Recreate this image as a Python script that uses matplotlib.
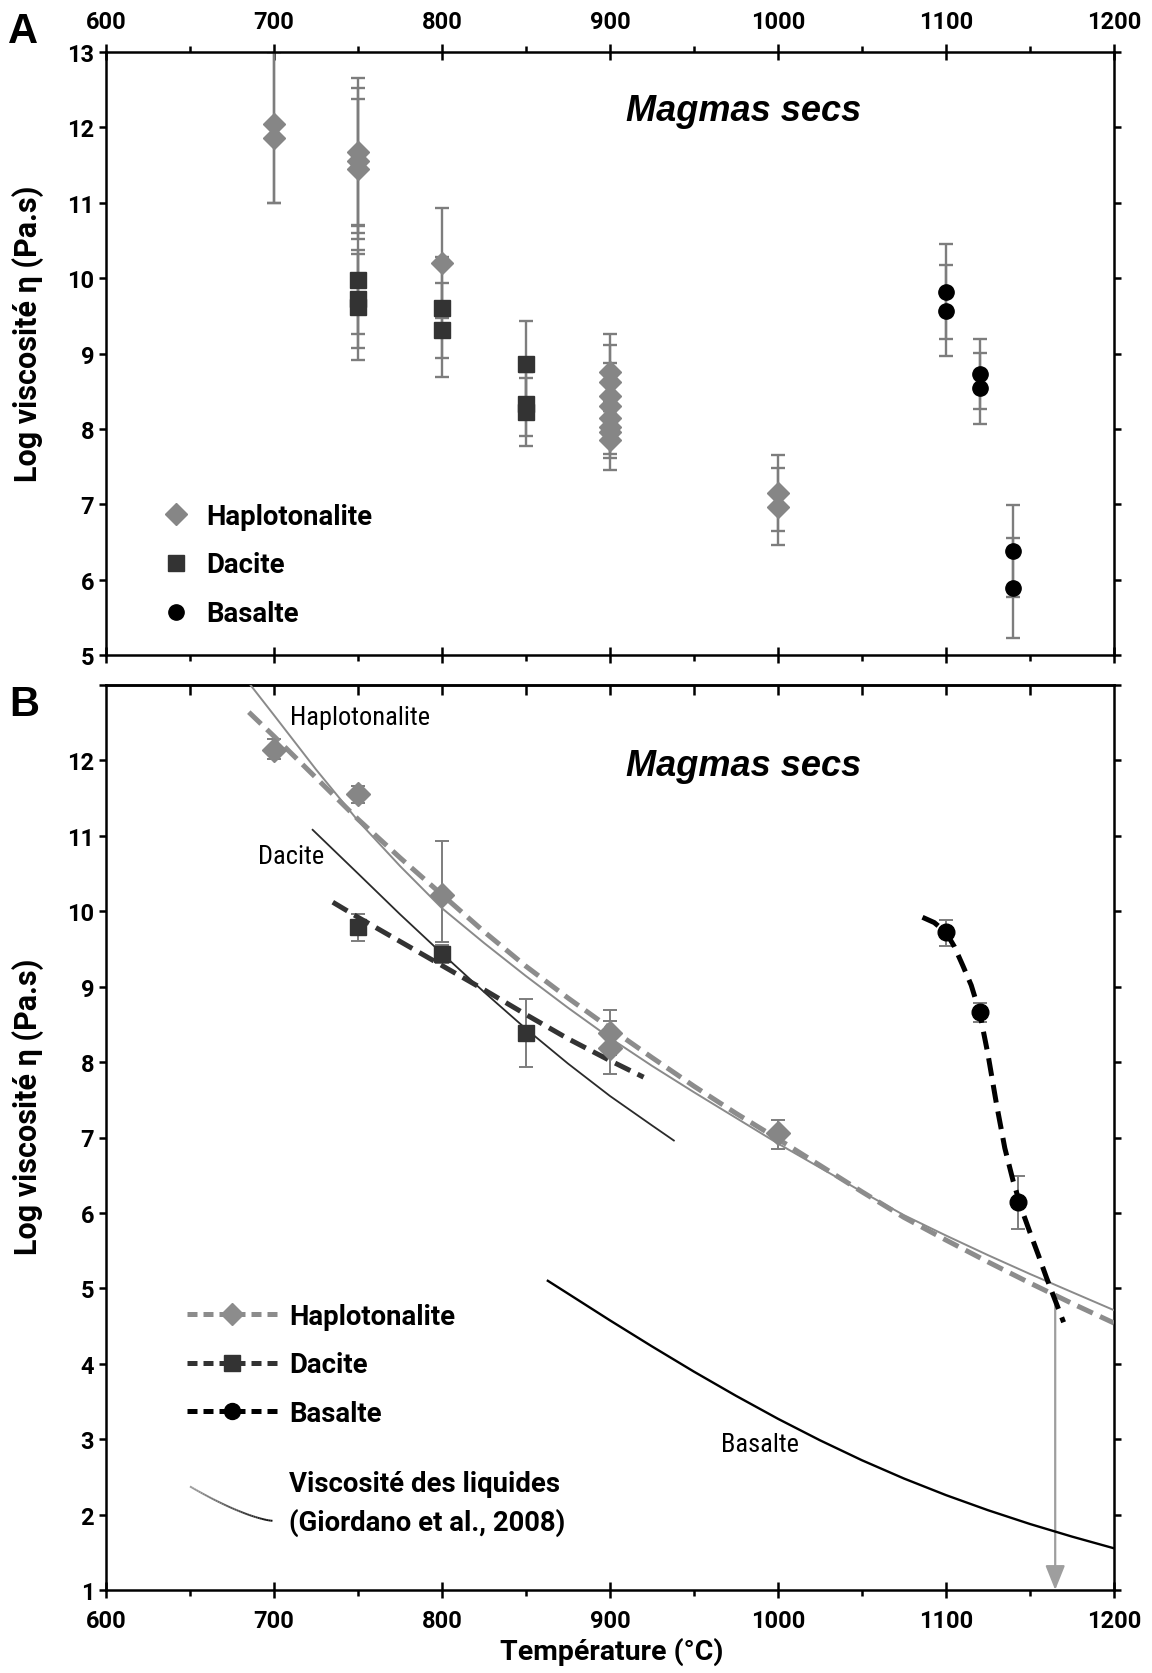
import numpy as np
import matplotlib
matplotlib.use('Agg')
import matplotlib.pyplot as plt
from matplotlib.lines import Line2D
from matplotlib.legend_handler import HandlerBase
from matplotlib.collections import LineCollection

# ---------------- DATA ----------------
# Panel A : measured points (T in degC, log viscosity, asymmetric errors)
hapA_T = [700, 700, 750, 750, 750, 800, 900, 900, 900, 900, 900, 900, 900, 900, 1000, 1000]
hapA_v = [12.05, 11.86, 11.67, 11.56, 11.45, 10.20, 8.75, 8.62, 8.44, 8.31, 8.15, 8.02, 7.96, 7.85, 7.15, 6.97]
hapA_lo = [1.05, 0.86, 0.98, 0.96, 0.93, 0.73, 0.51, 0.49, 0.44, 0.15, 0.15, 0.35, 0.35, 0.39, 0.51, 0.51]
hapA_hi = [0.95, 1.14, 0.98, 0.96, 0.93, 0.73, 0.51, 0.49, 0.44, 0.15, 0.15, 0.35, 0.35, 0.39, 0.51, 0.51]

dacA_T = [750, 750, 750, 800, 800, 850, 850, 850]
dacA_v = [9.98, 9.72, 9.62, 9.61, 9.31, 8.86, 8.33, 8.22]
dacA_err = [0.72, 0.65, 0.70, 0.67, 0.62, 0.57, 0.42, 0.45]

basA_T = [1100, 1100, 1120, 1120, 1140, 1140]
basA_v = [9.82, 9.57, 8.73, 8.54, 6.38, 5.89]
basA_err = [0.63, 0.60, 0.46, 0.47, 0.61, 0.66]

# Panel B : averaged points
hapB_T = [700, 750, 800, 900, 900, 1000]
hapB_v = [12.14, 11.55, 10.21, 8.39, 8.19, 7.06]
hapB_lo = [0.12, 0.12, 0.62, 0.30, 0.35, 0.21]
hapB_hi = [0.14, 0.11, 0.72, 0.30, 0.35, 0.17]

dacB_T = [750, 800, 850]
dacB_v = [9.79, 9.43, 8.39]
dacB_lo = [0.19, 0.12, 0.45]
dacB_hi = [0.18, 0.12, 0.45]

basB_T = [1100, 1120, 1143]
basB_v = [9.72, 8.66, 6.15]
basB_lo = [0.18, 0.13, 0.36]
basB_hi = [0.16, 0.12, 0.34]

# Panel B : fitted curves (dashed)
hapFit_T = [685, 700, 725, 750, 775, 800, 825, 850, 875, 900, 925, 950, 975, 1000,
            1025, 1050, 1075, 1100, 1125, 1150, 1175, 1200]
hapFit_v = [12.64, 12.32, 11.77, 11.22, 10.71, 10.22, 9.73, 9.27, 8.85, 8.45, 8.06, 7.68, 7.32, 6.98,
            6.63, 6.28, 5.94, 5.64, 5.35, 5.07, 4.80, 4.54]
dacFit_T = [735, 750, 775, 800, 825, 850, 875, 900, 920]
dacFit_v = [10.12, 9.92, 9.60, 9.28, 8.96, 8.63, 8.31, 8.02, 7.80]
basFit_T = [1086, 1093, 1100, 1105, 1110, 1115, 1120, 1125, 1130, 1135, 1140, 1145,
            1150, 1155, 1160, 1165, 1170]
basFit_v = [9.92, 9.85, 9.72, 9.53, 9.28, 9.02, 8.66, 8.10, 7.45, 6.86, 6.42, 6.05,
            5.74, 5.44, 5.13, 4.84, 4.55]

# Panel B : liquid viscosities (Giordano et al., 2008)
gioHap_T = [686, 700, 725, 750, 775, 800, 825, 850, 875, 900, 925, 950, 975, 1000,
            1025, 1050, 1075, 1100, 1125, 1150, 1175, 1200]
gioHap_v = [13.00, 12.60, 11.88, 11.20, 10.60, 10.04, 9.58, 9.14, 8.72, 8.32, 7.95, 7.60, 7.26, 6.92,
            6.60, 6.28, 5.97, 5.70, 5.44, 5.19, 4.95, 4.71]
gioDac_T = [723, 750, 775, 800, 825, 850, 875, 900, 925, 938]
gioDac_v = [11.08, 10.50, 9.96, 9.44, 8.93, 8.44, 7.98, 7.55, 7.16, 6.96]
gioBas_T = [863, 875, 900, 925, 950, 975, 1000, 1025, 1050, 1075, 1100, 1125, 1150, 1175, 1200]
gioBas_v = [5.10, 4.93, 4.575, 4.23, 3.895, 3.575, 3.27, 2.985, 2.72, 2.478, 2.258, 2.058, 1.875,
            1.708, 1.553]

# crossing temperature arrow
arrow_T = 1165
arrow_top = 4.86
arrow_bottom = 1.0

xticks = [600, 700, 800, 900, 1000, 1100, 1200]
yticksA = [5, 6, 7, 8, 9, 10, 11, 12, 13]
yticksB = [1, 2, 3, 4, 5, 6, 7, 8, 9, 10, 11, 12, 13]
yticklabelsB = ['1', '2', '3', '4', '5', '6', '7', '8', '9', '10', '11', '12', '']

# ---------------- STYLE ----------------
BOLD = ['Roboto', 'DejaVu Sans']
COND = ['Roboto Condensed', 'Roboto', 'DejaVu Sans']
plt.rcParams['font.family'] = BOLD
plt.rcParams['font.weight'] = 'bold'
plt.rcParams['axes.linewidth'] = 1.8

HAP_C = '#868686'
DAC_C = '#333333'
BAS_C = '#000000'
ERR_C = '#7d7d7d'

W, H = 1152, 1674
fig = plt.figure(figsize=(W / 100, H / 100), dpi=100)
axA = fig.add_axes([106 / W, 1 - 656 / H, 1008 / W, 603 / H])
axB = fig.add_axes([106 / W, 1 - 1591 / H, 1008 / W, 905 / H])


def errs(ax, T, v, lo, hi, lw, cap):
    ax.errorbar(T, v, yerr=[lo, hi], fmt='none', ecolor=ERR_C, elinewidth=lw,
                capsize=cap, capthick=lw, zorder=2)


def style_axis(ax, yt):
    ax.set_xlim(600, 1200)
    ax.set_xticks(xticks)
    ax.set_xticks(np.arange(650, 1200, 100), minor=True)
    ax.set_yticks(yt)
    ax.tick_params(axis='x', which='major', direction='inout', length=11, width=1.8, pad=8, labelsize=17)
    ax.tick_params(axis='x', which='minor', direction='out', length=4.5, width=1.8)
    ax.tick_params(axis='y', which='major', direction='out', length=5, width=1.8, left=True, right=True,
                   pad=3.5, labelsize=17)


# ---------------- PANEL A ----------------
errs(axA, hapA_T, hapA_v, hapA_lo, hapA_hi, 1.7, 5)
errs(axA, dacA_T, dacA_v, dacA_err, dacA_err, 1.7, 5)
errs(axA, basA_T, basA_v, basA_err, basA_err, 1.7, 5)
hA, = axA.plot(hapA_T, hapA_v, ls='none', marker='D', ms=11.5, color=HAP_C, mec=HAP_C, zorder=4,
               label='Haplotonalite')
dA, = axA.plot(dacA_T, dacA_v, ls='none', marker='s', ms=11.3, color=DAC_C, mec=DAC_C, zorder=4,
               label='Dacite')
bA, = axA.plot(basA_T, basA_v, ls='none', marker='o', ms=11, color=BAS_C, mec=BAS_C, zorder=4,
               label='Basalte')

style_axis(axA, yticksA)
axA.set_ylim(5, 13)
axA.xaxis.set_ticks_position('both')
axA.tick_params(axis='x', which='both', top=True, bottom=True, labeltop=True, labelbottom=False)
axA.set_ylabel('Log viscosité η (Pa.s)', fontsize=22, fontweight='bold')
axA.yaxis.set_label_coords(-0.062, 0.535)

axA.text(979.8, 12.22, 'Magmas secs', fontsize=26, fontweight='bold', style='italic',
         family=['Liberation Sans', 'DejaVu Sans'], ha='center', va='center')

legprop = dict(family=BOLD, weight='bold', size=19.8)
axA.legend(handles=[hA, dA, bA], loc='upper left', bbox_to_anchor=(0.0558, 0.2525),
           frameon=False, borderpad=0, borderaxespad=0, handlelength=1.0,
           handletextpad=0.6, labelspacing=0.79, markerscale=1.0, prop=legprop)

# ---------------- PANEL B ----------------
axB.plot(gioHap_T, gioHap_v, color='#8a8a8a', lw=1.4, zorder=3)
axB.plot(gioDac_T, gioDac_v, color='#2a2a2a', lw=1.3, zorder=3)
axB.plot(gioBas_T, gioBas_v, color='#000000', lw=1.7, zorder=3)

errs(axB, hapB_T, hapB_v, hapB_lo, hapB_hi, 1.4, 5)
errs(axB, dacB_T, dacB_v, dacB_lo, dacB_hi, 1.4, 5)
errs(axB, basB_T, basB_v, basB_lo, basB_hi, 1.4, 5)

axB.plot(hapFit_T, hapFit_v, color='#8c8c8c', lw=3.6, dashes=(3.4, 1.6), zorder=4)
axB.plot(dacFit_T, dacFit_v, color=DAC_C, lw=3.6, dashes=(3.4, 1.6), zorder=4)
axB.plot(basFit_T, basFit_v, color=BAS_C, lw=3.6, dashes=(3.6, 1.8), zorder=4)

axB.plot(hapB_T, hapB_v, ls='none', marker='D', ms=12, color=HAP_C, mec=HAP_C, zorder=5)
axB.plot(dacB_T, dacB_v, ls='none', marker='s', ms=12, color=DAC_C, mec=DAC_C, zorder=5)
axB.plot(basB_T, basB_v, ls='none', marker='o', ms=12, color=BAS_C, mec=BAS_C, zorder=5)

axB.annotate('', xy=(arrow_T, arrow_bottom), xytext=(arrow_T, arrow_top),
             arrowprops=dict(arrowstyle='-|>,head_length=0.75,head_width=0.3', color='#9e9e9e',
                             lw=1.6, mutation_scale=20, shrinkA=0, shrinkB=0), zorder=2)

style_axis(axB, yticksB)
axB.set_ylim(1, 13)
axB.set_yticklabels(yticklabelsB)
axB.tick_params(axis='x', which='both', top=False, bottom=True)
secB = axB.secondary_xaxis('top')
secB.set_xticks(np.arange(650, 1200, 50))
secB.tick_params(axis='x', direction='in', length=7, width=1.8, labeltop=False)
secB.spines['top'].set_linewidth(1.8)

for lab in axA.get_xticklabels() + axA.get_yticklabels() + axB.get_xticklabels() + axB.get_yticklabels():
    lab.set_fontweight('bold')

axB.set_ylabel('Log viscosité η (Pa.s)', fontsize=22, fontweight='bold')
axB.yaxis.set_label_coords(-0.062, 0.535)
axB.set_xlabel('Température (°C)', fontsize=20.5, fontweight='bold')
axB.xaxis.set_label_coords(0.502, -0.052)

axB.text(979.8, 11.93, 'Magmas secs', fontsize=26, fontweight='bold', style='italic',
         family=['Liberation Sans', 'DejaVu Sans'], ha='center', va='center')
axB.text(751, 12.57, 'Haplotonalite', fontsize=19, fontweight='normal', family=COND,
         ha='center', va='center')
axB.text(710, 10.73, 'Dacite', fontsize=19, fontweight='normal', family=COND, ha='center', va='center')
axB.text(989, 2.94, 'Basalte', fontsize=19, fontweight='normal', family=COND, ha='center', va='center')

hHap = Line2D([], [], color='#8c8c8c', lw=3.6, dashes=(2.0, 1.2), marker='D', ms=11, mec='#8c8c8c')
hDac = Line2D([], [], color=DAC_C, lw=3.6, dashes=(2.0, 1.2), marker='s', ms=12, mec=DAC_C)
hBas = Line2D([], [], color=BAS_C, lw=3.6, dashes=(2.0, 1.2), marker='o', ms=11.5, mec=BAS_C)
legB = axB.legend(handles=[hHap, hDac, hBas], labels=['Haplotonalite', 'Dacite', 'Basalte'],
                  loc='upper left', bbox_to_anchor=(0.0804, 0.3175), frameon=False, borderpad=0,
                  borderaxespad=0, handlelength=3.3, handletextpad=0.4, labelspacing=0.79,
                  prop=legprop)
axB.add_artist(legB)


class GiordanoKey:
    pass


class HandlerCurve(HandlerBase):
    def create_artists(self, legend, orig_handle, xdescent, ydescent, width, height, fontsize, trans):
        t = np.linspace(0, 1, 40)
        x = -xdescent + width * t
        span = 1.25 * fontsize
        yc = -ydescent + height / 2
        y = yc + span / 2 - span * (1 - (1 - t) ** 1.4)
        pts = np.column_stack([x, y]).reshape(-1, 1, 2)
        segs = np.concatenate([pts[:-1], pts[1:]], axis=1)
        g = np.linspace(0.62, 0.05, len(segs))
        cols = [(c, c, c) for c in g]
        lc = LineCollection(segs, colors=cols, linewidths=1.4, transform=trans)
        return [lc]


legG = axB.legend(handles=[GiordanoKey()], labels=['Viscosité des liquides\n(Giordano et al., 2008)'],
                  handler_map={GiordanoKey: HandlerCurve()}, loc='upper left',
                  bbox_to_anchor=(0.0833, 0.1330), frameon=False, borderpad=0, borderaxespad=0,
                  handlelength=3.0, handletextpad=0.6, prop=legprop)
for t in legG.get_texts():
    t.set_linespacing(1.5)

fig.text(23 / W, 1 - 32 / H, 'A', fontsize=30, fontweight='bold', ha='center', va='center',
         family=['Liberation Sans', 'DejaVu Sans'])
fig.text(24 / W, 1 - 705 / H, 'B', fontsize=30, fontweight='bold', ha='center', va='center',
         family=['Liberation Sans', 'DejaVu Sans'])

fig.savefig('out.png', dpi=100)
